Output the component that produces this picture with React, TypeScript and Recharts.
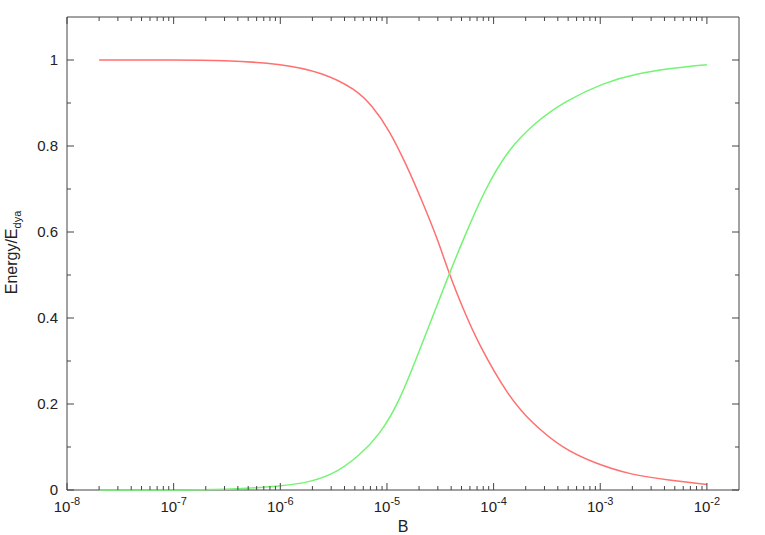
import React from "react";
import { LineChart, Line, XAxis, YAxis, ReferenceArea } from "recharts";

// Red series (B, Energy/E_dya)
const redB = [2e-8, 1e-7, 3e-7, 1e-6, 2.5e-6, 5.1e-6, 7.3e-6, 1.04e-5, 1.5e-5, 2.14e-5, 3.0e-5, 3.8e-5, 5.2e-5, 7.2e-5, 1.38e-4, 2.3e-4, 4.4e-4, 8.9e-4, 1.95e-3, 4.4e-3, 1e-2];
const redValues = [1.0, 1.0, 0.999, 0.992, 0.971, 0.932, 0.893, 0.839, 0.76, 0.672, 0.582, 0.505, 0.42, 0.34, 0.217, 0.155, 0.097, 0.062, 0.035, 0.023, 0.013];

// Green series (B, Energy/E_dya)
const greenB = [2e-8, 1e-7, 3e-7, 1e-6, 2e-6, 3.5e-6, 5.5e-6, 8.5e-6, 1.29e-5, 2e-5, 3.1e-5, 3.8e-5, 5.2e-5, 8.3e-5, 1.38e-4, 2.45e-4, 4.7e-4, 1.1e-3, 2.1e-3, 4.7e-3, 1e-2];
const greenValues = [0, 0, 0.001, 0.008, 0.019, 0.043, 0.08, 0.128, 0.202, 0.322, 0.443, 0.5, 0.583, 0.7, 0.793, 0.855, 0.905, 0.948, 0.967, 0.981, 0.989];

const xMajorTicks = [1e-8, 1e-7, 1e-6, 1e-5, 1e-4, 1e-3, 1e-2];
const xMinorMultipliers = [2, 3, 4, 5, 6, 7, 8, 9];
const yTicks = [0, 0.1, 0.2, 0.3, 0.4, 0.5, 0.6, 0.7, 0.8, 0.9, 1];
const yLabelTicks = [0, 0.2, 0.4, 0.6, 0.8, 1];

const xTicks: number[] = [];
xMajorTicks.forEach((m, i) => {
  xTicks.push(m);
  if (i < xMajorTicks.length - 1) xMinorMultipliers.forEach((k) => xTicks.push(k * m));
});

const redData = redB.map((b, i) => ({ B: b, v: redValues[i] }));
const greenData = greenB.map((b, i) => ({ B: b, v: greenValues[i] }));

const W = 765;
const H = 535;
const MARGIN = { top: 17, right: 26, bottom: 0, left: 0 };
const Y_AXIS_W = 67;
const X_AXIS_H = 45;
const PLOT_W = W - MARGIN.left - MARGIN.right - Y_AXIS_W;
const PLOT_H = H - MARGIN.top - MARGIN.bottom - X_AXIS_H;
const FONT = "'Liberation Sans', Arial, Helvetica, sans-serif";
const AXIS_COLOR = "#444";
const TEXT_COLOR = "#222";

const XTick = (props: any) => {
  const { x, y, payload } = props;
  const v = payload.value as number;
  const lg = Math.log10(v);
  const major = Math.abs(lg - Math.round(lg)) < 1e-6;
  const len = major ? 7 : 4;
  return (
    <g>
      <line x1={x} y1={y} x2={x} y2={y - len} stroke={AXIS_COLOR} strokeWidth={1} />
      <line x1={x} y1={y - PLOT_H} x2={x} y2={y - PLOT_H + len} stroke={AXIS_COLOR} strokeWidth={1} />
      {major && (
        <text x={x} y={y + 22} textAnchor="middle" fontFamily={FONT} fontSize={15} fill={TEXT_COLOR}>
          <tspan>10</tspan>
          <tspan dy={-7} fontSize={11}>{String(Math.round(lg))}</tspan>
        </text>
      )}
    </g>
  );
};

const YTick = (props: any) => {
  const { x, y, payload } = props;
  const v = payload.value as number;
  const labeled = yLabelTicks.some((t) => Math.abs(t - v) < 1e-9);
  const len = labeled ? 7 : 4;
  const label = v === 0 ? "0" : v === 1 ? "1" : v.toFixed(1);
  return (
    <g>
      <line x1={x} y1={y} x2={x + len} y2={y} stroke={AXIS_COLOR} strokeWidth={1} />
      <line x1={x + PLOT_W} y1={y} x2={x + PLOT_W - len} y2={y} stroke={AXIS_COLOR} strokeWidth={1} />
      {labeled && (
        <text x={x - 9} y={y + 5} textAnchor="end" fontFamily={FONT} fontSize={15} fill={TEXT_COLOR}>
          {label}
        </text>
      )}
    </g>
  );
};

const YLabel = (props: any) => {
  const vb = props.viewBox || { x: 0, y: 0, width: 0, height: 0 };
  const cx = vb.x + 17;
  const cy = vb.y + vb.height / 2 - 1;
  return (
    <text x={cx} y={cy} transform={`rotate(-90 ${cx} ${cy})`} textAnchor="middle" fontFamily={FONT} fontSize={16} fill={TEXT_COLOR}>
      <tspan>Energy/E</tspan>
      <tspan dy={4} fontSize={11}>dya</tspan>
    </text>
  );
};

const XLabel = (props: any) => {
  const vb = props.viewBox || { x: 0, y: 0, width: 0, height: 0 };
  const cx = vb.x + vb.width / 2;
  return (
    <text x={cx} y={vb.y + 42} textAnchor="middle" fontFamily={FONT} fontSize={16} fill={TEXT_COLOR}>
      B
    </text>
  );
};

export default function App() {
  return (
    <div style={{ position: "absolute", left: 0, top: 0, width: W, height: H, background: "#fff" }}>
      <LineChart width={W} height={H} margin={MARGIN}>
        <ReferenceArea x1={1e-8} x2={0.02} y1={0} y2={1.1} fill="none" stroke={AXIS_COLOR} strokeWidth={1} />
        <XAxis
          dataKey="B"
          type="number"
          scale="log"
          domain={[1e-8, 0.02]}
          ticks={xTicks}
          interval={0}
          tick={<XTick />}
          tickSize={0}
          tickMargin={0}
          tickLine={false}
          axisLine={false}
          height={X_AXIS_H}
          label={<XLabel />}
        />
        <YAxis
          type="number"
          domain={[0, 1.1]}
          ticks={yTicks}
          interval={0}
          tick={<YTick />}
          tickSize={0}
          tickMargin={0}
          tickLine={false}
          axisLine={false}
          width={Y_AXIS_W}
          label={<YLabel />}
        />
        <Line data={redData} type="basis" dataKey="v" stroke="#ff7070" strokeWidth={1.5} dot={false} isAnimationActive={false} />
        <Line data={greenData} type="basis" dataKey="v" stroke="#74f474" strokeWidth={1.5} dot={false} isAnimationActive={false} />
      </LineChart>
    </div>
  );
}
